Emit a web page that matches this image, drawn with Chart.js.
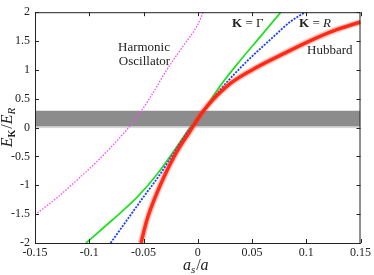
<!DOCTYPE html>
<html>
<head>
<meta charset="utf-8">
<script src="https://cdn.jsdelivr.net/npm/chart.js@4.4.1/dist/chart.umd.min.js"></script>
<style>
  html, body { margin: 0; padding: 0; background: #fff; }
  #wrap { width: 374px; height: 275px; }
</style>
</head>
<body>
<div id="wrap"><canvas id="energyChart" width="374" height="275"></canvas></div>
<script>
// values
const xTicks = [-0.15, -0.1, -0.05, 0, 0.05, 0.1, 0.15];
const xTickLabels = ["-0.15", "-0.1", "-0.05", "0", "0.05", "0.1", "0.15"];
const yTicks = [-2, -1.5, -1, -0.5, 0, 0.5, 1, 1.5, 2];
const yTickLabels = ["-2", "-1.5", "-1", "-0.5", "0", "0.5", "1", "1.5", "2"];

const oscX = [-0.15, -0.13, -0.109, -0.093, -0.078, -0.066, -0.052, -0.04, -0.0286, -0.014, 0.0003, 0.005];
const oscY = [-1.51, -1.22, -0.87, -0.59, -0.3, -0.05, 0.29, 0.64, 1.0, 1.4, 1.795, 2.0];

const gammaX = [-0.1031, -0.0793, -0.0563, -0.0378, -0.0225, -0.0101, 0.0052, 0.0206, 0.0384, 0.0575, 0.0766];
const gammaY = [-2.0, -1.61, -1.215, -0.817, -0.42, -0.08, 0.29, 0.72, 1.147, 1.573, 2.0];

const rX = [-0.0803, -0.0655, -0.0505, -0.035, -0.0215, -0.0096, 0.0052, 0.0236, 0.0452, 0.0697, 0.085, 0.099];
const rY = [-2.0, -1.61, -1.215, -0.817, -0.42, -0.08, 0.29, 0.72, 1.147, 1.573, 1.83, 2.0];

const hubbardX = [-0.0523, -0.047, -0.0394, -0.0302, -0.0194, -0.0077, 0.0052, 0.027, 0.05, 0.08, 0.11, 0.13, 0.15];
const hubbardY = [-2.0, -1.61, -1.215, -0.817, -0.42, -0.08, 0.29, 0.72, 1.0, 1.29, 1.56, 1.71, 1.83];

const bandX = [-0.15, 0.15];
const bandTop = [0.29, 0.29];
const bandBottom = 0.018;

const SERIF = "'Liberation Serif', 'DejaVu Serif', serif";
Chart.defaults.font.family = SERIF;
Chart.defaults.color = "#222";

function pts(xs, ys) {
  return xs.map((x, i) => ({ x, y: ys[i] }));
}

function curve(data, color, width, dash, order) {
  return {
    data,
    borderColor: color,
    borderWidth: width,
    borderDash: dash,
    borderCapStyle: "butt",
    pointRadius: 0,
    fill: false,
    cubicInterpolationMode: "monotone",
    order,
  };
}

// draw a run of text pieces (for subscripts)
function drawRuns(ctx, runs, x, y, align) {
  let total = 0;
  runs.forEach((r) => {
    ctx.font = r.font;
    total += ctx.measureText(r.t).width + (r.gap || 0);
  });
  let cx = align === "center" ? x - total / 2 : x;
  runs.forEach((r) => {
    ctx.font = r.font;
    ctx.fillText(r.t, cx, y + (r.dy || 0));
    cx += ctx.measureText(r.t).width + (r.gap || 0);
  });
}

const reg = `13px ${SERIF}`;
const ita = `italic 13px ${SERIF}`;
const bld = `bold 13px ${SERIF}`;
const titleReg = `16px ${SERIF}`;
const titleIta = `italic 16px ${SERIF}`;

const labelsPlugin = {
  id: "labels",
  afterDatasetsDraw(chart) {
    const { ctx, chartArea: a, scales } = chart;
    const xs = scales.x;
    const ys = scales.y;
    ctx.save();

    // inner tick marks on all four sides
    ctx.strokeStyle = "#222";
    ctx.lineWidth = 1;
    ctx.beginPath();
    xTicks.forEach((v) => {
      const px = Math.round(xs.getPixelForValue(v)) + 0.5;
      ctx.moveTo(px, a.bottom);
      ctx.lineTo(px, a.bottom - 4);
      ctx.moveTo(px, a.top);
      ctx.lineTo(px, a.top + 4);
    });
    yTicks.forEach((v) => {
      const py = Math.round(ys.getPixelForValue(v)) + 0.5;
      ctx.moveTo(a.left, py);
      ctx.lineTo(a.left + 4, py);
      ctx.moveTo(a.right, py);
      ctx.lineTo(a.right - 4, py);
    });
    ctx.stroke();
    ctx.strokeRect(a.left + 0.5, a.top + 0.5, a.right - a.left - 1, a.bottom - a.top);

    ctx.fillStyle = "#222";
    ctx.textBaseline = "alphabetic";
    ctx.textAlign = "left";

    ctx.font = reg;
    ctx.fillText("Harmonic", xs.getPixelForValue(-0.0735), ys.getPixelForValue(1.335));
    ctx.fillText("Oscillator", xs.getPixelForValue(-0.0727), ys.getPixelForValue(1.08));
    ctx.fillText("Hubbard", xs.getPixelForValue(0.1008), ys.getPixelForValue(1.284));

    drawRuns(ctx, [{ t: "K", font: bld }, { t: " = Γ", font: reg }], xs.getPixelForValue(0.0316), ys.getPixelForValue(1.745), "left");
    drawRuns(ctx, [{ t: "K", font: bld }, { t: " = ", font: reg }, { t: "R", font: ita }], xs.getPixelForValue(0.0934), ys.getPixelForValue(1.745), "left");

    // axis titles
    drawRuns(
      ctx,
      [
        { t: "a", font: titleIta },
        { t: "s", font: `italic 11px ${SERIF}`, dy: 3, gap: 1 },
        { t: "/", font: titleReg },
        { t: "a", font: titleIta },
      ],
      (a.left + a.right) / 2 - 2,
      270,
      "center"
    );

    ctx.translate(12, (a.top + a.bottom) / 2);
    ctx.rotate(-Math.PI / 2);
    drawRuns(
      ctx,
      [
        { t: "E", font: titleIta },
        { t: "K", font: `bold 10px ${SERIF}`, dy: 3, gap: 1 },
        { t: "/", font: titleReg },
        { t: "E", font: titleIta },
        { t: "R", font: `italic 11px ${SERIF}`, dy: 3 },
      ],
      0,
      0,
      "center"
    );
    ctx.restore();
  },
};

new Chart(document.getElementById("energyChart"), {
  type: "line",
  data: {
    datasets: [
      {
        data: pts(bandX, bandTop),
        borderWidth: 0,
        pointRadius: 0,
        backgroundColor: "#8c8c8c",
        fill: { value: bandBottom },
        order: 10,
      },
      curve(pts(bandX, [0, 0]), "#d4d4d4", 1, [], 9),
      curve(pts(oscX, oscY), "#ff44ff", 1.3, [1.5, 1.5], 5),
      curve(pts(gammaX, gammaY), "#1ee01e", 1.7, [], 4),
      curve(pts(rX, rY), "#1c3cff", 1.8, [2, 1.3], 3),
      curve(pts(hubbardX, hubbardY), "rgba(255, 70, 50, 0.3)", 6.5, [], 2),
      curve(pts(hubbardX, hubbardY), "rgba(255, 35, 15, 0.95)", 3.5, [], 1),
    ],
  },
  options: {
    responsive: false,
    devicePixelRatio: 1,
    animation: false,
    events: [],
    layout: { padding: { top: 8, right: 13, left: 0, bottom: 0 } },
    plugins: { legend: { display: false }, tooltip: { enabled: false } },
    scales: {
      x: {
        type: "linear",
        min: -0.15,
        max: 0.15,
        afterBuildTicks: (s) => (s.ticks = xTicks.map((v) => ({ value: v }))),
        afterFit: (s) => (s.height = 32),
        grid: { display: false, drawTicks: false },
        border: { display: true, color: "#222", width: 1 },
        ticks: {
          padding: 3,
          maxRotation: 0,
          autoSkip: false,
          color: "#222",
          font: { family: SERIF, size: 12 },
          callback: (v, i) => xTickLabels[i],
        },
      },
      y: {
        type: "linear",
        min: -2,
        max: 2,
        afterBuildTicks: (s) => (s.ticks = yTicks.map((v) => ({ value: v }))),
        afterFit: (s) => (s.width = 35),
        grid: { display: false, drawTicks: false },
        border: { display: true, color: "#222", width: 1 },
        ticks: {
          padding: 5,
          autoSkip: false,
          color: "#222",
          font: { family: SERIF, size: 12 },
          callback: (v, i) => yTickLabels[i],
        },
      },
    },
  },
  plugins: [labelsPlugin],
});
</script>
</body>
</html>
